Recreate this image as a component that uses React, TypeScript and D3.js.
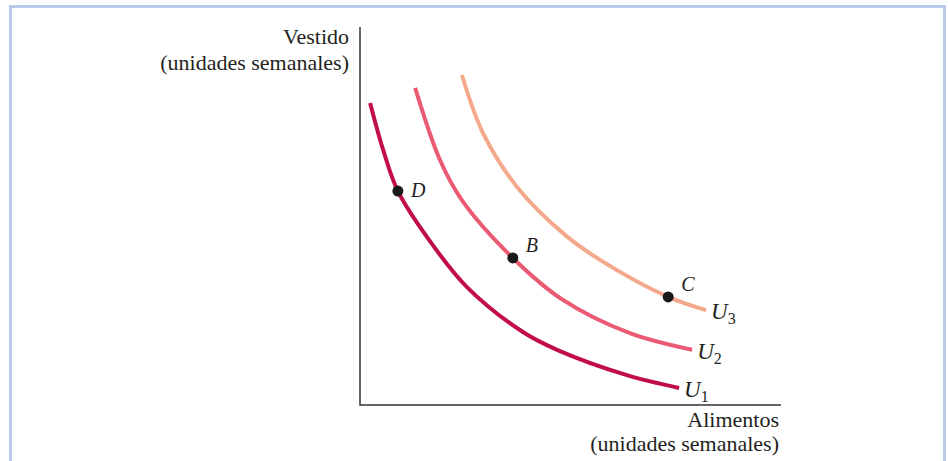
import React, { useEffect, useRef } from 'react';
import * as d3 from 'd3';

// Indifference curves, in chart units (food on x, clothing on y)
const u1Food = [0.24, 0.55, 0.9, 1.73, 2.54, 3.87, 4.68, 6.34, 7.58];
const u1Clothing = [7.99, 6.75, 5.66, 4.23, 3.12, 1.93, 1.46, 0.79, 0.45];

const u2Food = [1.31, 1.9, 2.42, 3.63, 4.82, 6.41, 7.89];
const u2Clothing = [8.39, 6.48, 5.42, 3.89, 2.78, 1.9, 1.46];

const u3Food = [2.42, 2.92, 3.73, 4.87, 5.7, 7.32, 8.22];
const u3Clothing = [8.73, 7.2, 5.77, 4.5, 3.84, 2.86, 2.51];

const curveNames = ['1', '2', '3'];
const curveColors = ['#c20d4b', '#ea5a73', '#f5a98c'];

const pointNames = ['D', 'B', 'C'];
const pointFood = [0.9, 3.63, 7.32];
const pointClothing = [5.66, 3.89, 2.86];

const W = 948;
const H = 461;

const App = () => {
  const svgRef = useRef<SVGSVGElement>(null);

  useEffect(() => {
    const svg = d3.select(svgRef.current);
    svg.selectAll('*').remove();

    const x = d3.scaleLinear().domain([0, 10]).range([360, 781]);
    const y = d3.scaleLinear().domain([0, 10]).range([405, 27]);
    const font = 'Liberation Serif, DejaVu Serif, serif';

    // light blue frame, open at the bottom
    svg.append('path')
      .attr('d', `M10.5,${H + 5} V6.5 H944.5 V${H + 5}`)
      .attr('fill', 'none')
      .attr('stroke', '#b9c9ea')
      .attr('stroke-width', 3);

    // axes
    svg.append('path')
      .attr('d', `M${x(0)},${y(10)} V${y(0)} H${x(10)}`)
      .attr('fill', 'none')
      .attr('stroke', '#333')
      .attr('stroke-width', 1.5);

    const yTitle = svg.append('text')
      .attr('text-anchor', 'end')
      .attr('font-family', font)
      .attr('font-size', 22)
      .attr('fill', '#231f20');
    yTitle.append('tspan').attr('x', 349).attr('y', 44).text('Vestido');
    yTitle.append('tspan').attr('x', 349).attr('y', 70).text('(unidades semanales)');

    const xTitle = svg.append('text')
      .attr('text-anchor', 'end')
      .attr('font-family', font)
      .attr('font-size', 22)
      .attr('fill', '#231f20');
    xTitle.append('tspan').attr('x', x(10) - 2).attr('y', 427).text('Alimentos');
    xTitle.append('tspan').attr('x', x(10) - 2).attr('y', 451).text('(unidades semanales)');

    const line = d3.line<[number, number]>()
      .curve(d3.curveCatmullRom.alpha(0.5))
      .x(d => x(d[0]))
      .y(d => y(d[1]));

    const curves = [
      d3.zip(u1Food, u1Clothing),
      d3.zip(u2Food, u2Clothing),
      d3.zip(u3Food, u3Clothing),
    ] as [number, number][][];

    curves.forEach((pts, i) => {
      svg.append('path')
        .attr('d', line(pts))
        .attr('fill', 'none')
        .attr('stroke', curveColors[i])
        .attr('stroke-width', 4);

      const last = pts[pts.length - 1];
      const lbl = svg.append('text')
        .attr('x', x(last[0]) + 5)
        .attr('y', y(last[1]) + 9)
        .attr('font-family', font)
        .attr('font-size', 23)
        .attr('font-style', 'italic')
        .attr('fill', '#231f20');
      lbl.append('tspan').text('U');
      lbl.append('tspan')
        .attr('font-size', 16)
        .attr('font-style', 'normal')
        .attr('dy', 5)
        .text(curveNames[i]);
    });

    pointNames.forEach((name, i) => {
      const cx = x(pointFood[i]);
      const cy = y(pointClothing[i]);
      svg.append('circle')
        .attr('cx', cx)
        .attr('cy', cy)
        .attr('r', 5.5)
        .attr('fill', '#1a1a1a');
      svg.append('text')
        .attr('x', cx + 13)
        .attr('y', cy - (i === 0 ? -6 : 6))
        .attr('font-family', font)
        .attr('font-size', 20)
        .attr('font-style', 'italic')
        .attr('fill', '#231f20')
        .text(name);
    });
  }, []);

  return (
    <svg
      ref={svgRef}
      width={W}
      height={H}
      style={{ position: 'absolute', left: 0, top: 0, background: '#fff' }}
    />
  );
};

export default App;
